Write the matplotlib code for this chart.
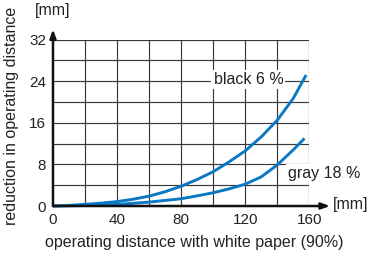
import matplotlib
matplotlib.use("Agg")
import matplotlib.pyplot as plt

plt.rcParams['font.family'] = ['Liberation Sans', 'DejaVu Sans']

black_x = [0, 10, 20, 30, 40, 50, 60, 70, 80, 90, 100, 110, 120, 130, 140, 150, 158]
black_y = [0, 0.12, 0.33, 0.55, 0.85, 1.3, 1.9, 2.75, 3.8, 5.1, 6.6, 8.5, 10.6, 13.3, 16.5, 20.7, 25.2]
gray_x = [0, 20, 40, 60, 80, 90, 100, 110, 120, 130, 140, 150, 157]
gray_y = [0, 0.1, 0.3, 0.75, 1.4, 1.95, 2.55, 3.3, 4.2, 5.6, 7.9, 10.8, 13.0]

x_ticks = [0, 40, 80, 120, 160]
y_ticks = [0, 8, 16, 24, 32]
x_label = "operating distance with white paper (90%)"
y_label = "reduction in operating distance"
unit = "[mm]"
black_label = "black 6 %"
gray_label = "gray 18 %"

blue = "#0a78c2"
txt = "#222222"
fs = 11.5

fig = plt.figure(figsize=(3.69, 2.57), dpi=100)
ax = fig.add_axes([0.1436, 0.1984, 0.6946, 0.6475])
ax.set_xlim(0, 160)
ax.set_ylim(0, 32)

for gx in range(20, 161, 20):
    ax.axvline(gx, color="#3a3a3a", lw=0.85, zorder=1)
for gy in range(4, 33, 4):
    ax.axhline(gy, color="#3a3a3a", lw=0.85, zorder=1)

ax.plot(black_x, black_y, color=blue, lw=2.1, solid_capstyle="butt",
        solid_joinstyle="round", zorder=3, clip_on=False)
ax.plot(gray_x, gray_y, color=blue, lw=2.1, solid_capstyle="butt",
        solid_joinstyle="round", zorder=3, clip_on=False)

for s in ax.spines.values():
    s.set_visible(False)
ax.set_xticks(x_ticks)
ax.set_yticks(y_ticks)
ax.tick_params(length=0, labelsize=11, pad=5, colors=txt)

# axes with arrows
ax.annotate("", xy=(0, 34.0), xytext=(0, 0), xycoords="data",
            arrowprops=dict(arrowstyle="-|>,head_length=0.5,head_width=0.18", color="#111111", lw=1.8,
                            shrinkA=0, shrinkB=0), annotation_clip=False, zorder=4)
ax.annotate("", xy=(173, 0), xytext=(0, 0), xycoords="data",
            arrowprops=dict(arrowstyle="-|>,head_length=0.5,head_width=0.18", color="#111111", lw=1.8,
                            shrinkA=0, shrinkB=0), annotation_clip=False, zorder=4)

ax.text(0, 36.2, unit, ha="center", va="bottom", fontsize=fs, color=txt, clip_on=False)
ax.text(174.5, 0.3, unit, ha="left", va="center", fontsize=fs, color=txt, clip_on=False)

ax.text(122, 24.3, black_label, ha="center", va="center", fontsize=fs, color=txt,
        bbox=dict(facecolor="white", edgecolor="none", pad=1.5), zorder=2)
ax.text(169.5, 6.3, gray_label, ha="center", va="center", fontsize=fs, color=txt,
        bbox=dict(facecolor="white", edgecolor="none", pad=1.5), zorder=2, clip_on=False)

fig.text(194 / 369, 1 - 243 / 257, x_label, ha="center", va="center", fontsize=fs, color=txt)
fig.text(12 / 369, 1 - 116 / 257, y_label, ha="center", va="center", rotation=90,
         fontsize=fs, color=txt)

fig.savefig("out.png", dpi=100)
